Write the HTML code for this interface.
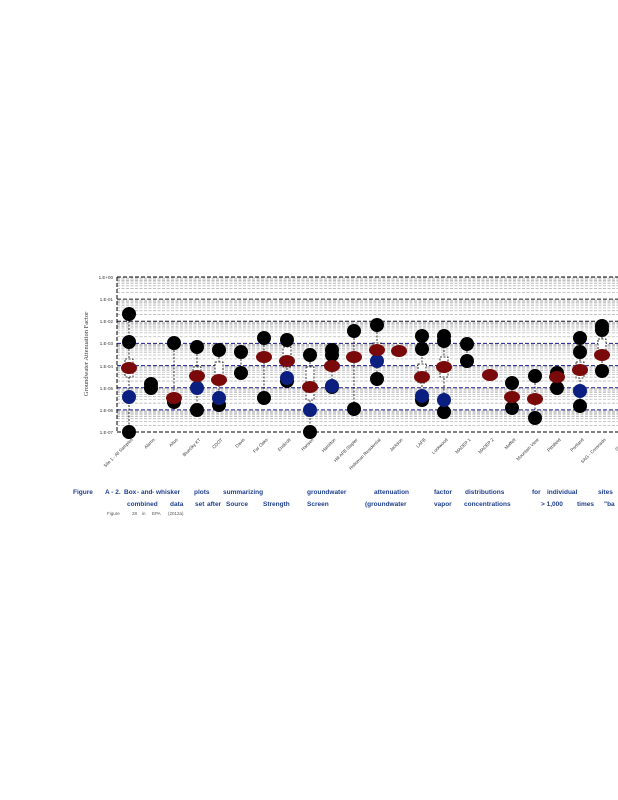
<!DOCTYPE html>
<html><head><meta charset="utf-8"><style>
html,body{margin:0;padding:0;background:#fff;width:618px;height:800px;overflow:hidden}
svg{display:block}
</style></head><body>
<svg width="618" height="800" viewBox="0 0 618 800" xmlns="http://www.w3.org/2000/svg" font-family="Liberation Sans, sans-serif">
<defs>
<g id="minor" stroke="#b8b8b8" stroke-width="0.8" stroke-dasharray="3,1.5">
<line x1="117" x2="618" y1="1.02" y2="1.02"/><line x1="117" x2="618" y1="2.14" y2="2.14"/>
<line x1="117" x2="618" y1="3.43" y2="3.43"/><line x1="117" x2="618" y1="4.91" y2="4.91"/>
<line x1="117" x2="618" y1="6.66" y2="6.66"/><line x1="117" x2="618" y1="8.81" y2="8.81"/>
<line x1="117" x2="618" y1="11.58" y2="11.58"/><line x1="117" x2="618" y1="15.47" y2="15.47"/>
</g>
</defs>
<use href="#minor" y="277"/><use href="#minor" y="299.1"/><use href="#minor" y="321.3"/>
<use href="#minor" y="343.4"/><use href="#minor" y="365.6"/><use href="#minor" y="387.7"/><use href="#minor" y="409.9"/>
<g stroke-width="1" stroke-dasharray="4,2">
<line x1="117" x2="618" y1="299.1" y2="299.1" stroke="#222"/>
<line x1="117" x2="618" y1="321.3" y2="321.3" stroke="#112"/>
<line x1="117" x2="618" y1="343.4" y2="343.4" stroke="#1a1a8a"/>
<line x1="117" x2="618" y1="365.6" y2="365.6" stroke="#1a1a8a"/>
<line x1="117" x2="618" y1="387.7" y2="387.7" stroke="#1a1a8a"/>
<line x1="117" x2="618" y1="409.9" y2="409.9" stroke="#1a1a8a"/>
</g>
<g stroke="#000" stroke-width="1" stroke-dasharray="4,2" fill="none">
<line x1="117" x2="618" y1="277" y2="277"/>
<line x1="117" x2="618" y1="432" y2="432"/>
<line x1="117" x2="117" y1="277" y2="432"/>
</g>
<g font-size="4.5" fill="#333" text-anchor="end">
<text x="113" y="279">1.E+00</text><text x="113" y="301">1.E-01</text><text x="113" y="323">1.E-02</text>
<text x="113" y="345">1.E-03</text><text x="113" y="368">1.E-04</text><text x="113" y="390">1.E-05</text>
<text x="113" y="412">1.E-06</text><text x="113" y="434">1.E-07</text>
</g>
<text transform="translate(88,354) rotate(-90)" font-size="6.5" fill="#333" text-anchor="middle" font-family="Liberation Serif, serif">Groundwater  Attenuation  Factor</text>

<g stroke="#000" stroke-width="0.8" stroke-dasharray="2,1.5" fill="none">
<line x1="129" x2="129" y1="314" y2="432"/><line x1="174" x2="174" y1="343" y2="402"/>
<line x1="197" x2="197" y1="347" y2="410"/><line x1="219" x2="219" y1="350" y2="405"/>
<line x1="241" x2="241" y1="352" y2="373"/><line x1="264" x2="264" y1="338" y2="398"/>
<line x1="287" x2="287" y1="340" y2="381"/><line x1="310" x2="310" y1="355" y2="432"/>
<line x1="332" x2="332" y1="350" y2="387"/><line x1="354" x2="354" y1="331" y2="409"/>
<line x1="377" x2="377" y1="325" y2="379"/><line x1="422" x2="422" y1="336" y2="400"/>
<line x1="444" x2="444" y1="336" y2="412"/><line x1="467" x2="467" y1="344" y2="361"/>
<line x1="512" x2="512" y1="383" y2="408"/><line x1="535" x2="535" y1="376" y2="418"/>
<line x1="557" x2="557" y1="373" y2="388"/><line x1="580" x2="580" y1="338" y2="406"/>
<line x1="602" x2="602" y1="326" y2="371"/>
<rect x="125" y="359" width="8" height="18" fill="#fff"/>
<rect x="193" y="367" width="8" height="15" fill="#fff"/>
<rect x="215" y="362" width="8" height="22" fill="#fff"/>
<rect x="283" y="347" width="8" height="20" fill="#fff"/>
<rect x="306" y="367" width="8" height="33" fill="#fff"/>
<rect x="373" y="343" width="8" height="14" fill="#fff"/>
<rect x="418" y="364" width="8" height="19" fill="#fff"/>
<rect x="440" y="357" width="8" height="20" fill="#fff"/>
<rect x="576" y="362" width="8" height="16" fill="#fff"/>
<rect x="598" y="339" width="8" height="18" fill="#fff"/>
</g>
<g fill="#000">
<circle cx="129" cy="314" r="7"/><circle cx="129" cy="342" r="7"/><circle cx="129" cy="432" r="7"/>
<circle cx="151" cy="384" r="7"/><circle cx="151" cy="388" r="7"/>
<circle cx="174" cy="343" r="7"/><circle cx="174" cy="402" r="7"/>
<circle cx="197" cy="347" r="7"/><circle cx="197" cy="410" r="7"/>
<circle cx="219" cy="350" r="7"/><circle cx="219" cy="405" r="7"/>
<circle cx="241" cy="352" r="7"/><circle cx="241" cy="373" r="7"/>
<circle cx="264" cy="338" r="7"/><circle cx="264" cy="398" r="7"/>
<circle cx="287" cy="340" r="7"/><circle cx="287" cy="381" r="7"/>
<circle cx="310" cy="355" r="7"/><circle cx="310" cy="432" r="7"/>
<circle cx="332" cy="350" r="7"/><circle cx="332" cy="355" r="7"/><circle cx="332" cy="387" r="7"/>
<circle cx="354" cy="331" r="7"/><circle cx="354" cy="409" r="7"/>
<circle cx="377" cy="325" r="7"/><circle cx="377" cy="379" r="7"/>
<circle cx="422" cy="336" r="7"/><circle cx="422" cy="349" r="7"/><circle cx="422" cy="400" r="7"/>
<circle cx="444" cy="336" r="7"/><circle cx="444" cy="341" r="7"/><circle cx="444" cy="412" r="7"/>
<circle cx="467" cy="344" r="7"/><circle cx="467" cy="361" r="7"/>
<circle cx="512" cy="383" r="7"/><circle cx="512" cy="408" r="7"/>
<circle cx="535" cy="376" r="7"/><circle cx="535" cy="418" r="7"/>
<circle cx="557" cy="373" r="7"/><circle cx="557" cy="388" r="7"/>
<circle cx="580" cy="338" r="7"/><circle cx="580" cy="352" r="7"/><circle cx="580" cy="406" r="7"/>
<circle cx="602" cy="326" r="7"/><circle cx="602" cy="330" r="7"/><circle cx="602" cy="371" r="7"/>
</g>
<g fill="#0b1f80">
<circle cx="129" cy="397" r="7"/><circle cx="197" cy="388" r="7"/><circle cx="219" cy="398" r="7"/>
<circle cx="287" cy="378" r="7"/><circle cx="310" cy="410" r="7"/><circle cx="332" cy="386" r="7"/>
<circle cx="377" cy="361" r="7"/><circle cx="422" cy="396" r="7"/><circle cx="444" cy="400" r="7"/>
<circle cx="580" cy="391" r="7"/>
</g>
<g fill="#7a0a0a">
<ellipse cx="129" cy="368" rx="8" ry="6"/><ellipse cx="174" cy="398" rx="8" ry="6"/>
<ellipse cx="197" cy="376" rx="8" ry="6"/><ellipse cx="219" cy="380" rx="8" ry="6"/>
<ellipse cx="264" cy="357" rx="8" ry="6"/><ellipse cx="287" cy="361" rx="8" ry="6"/>
<ellipse cx="310" cy="387" rx="8" ry="6"/><ellipse cx="332" cy="366" rx="8" ry="6"/>
<ellipse cx="354" cy="357" rx="8" ry="6"/><ellipse cx="377" cy="350" rx="8" ry="6"/>
<ellipse cx="399" cy="351" rx="8" ry="6"/><ellipse cx="422" cy="377" rx="8" ry="6"/>
<ellipse cx="444" cy="367" rx="8" ry="6"/><ellipse cx="490" cy="375" rx="8" ry="6"/>
<ellipse cx="512" cy="397" rx="8" ry="6"/><ellipse cx="535" cy="399" rx="8" ry="6"/>
<ellipse cx="557" cy="377" rx="8" ry="6"/><ellipse cx="580" cy="370" rx="8" ry="6"/>
<ellipse cx="602" cy="355" rx="8" ry="6"/>
</g>
<g font-size="4.5" fill="#333" text-anchor="end">
<text transform="translate(133,440) rotate(-45)">Site 1 - All Samples</text>
<text transform="translate(155,440) rotate(-45)">Alamo</text>
<text transform="translate(178,440) rotate(-45)">Altus</text>
<text transform="translate(201,440) rotate(-45)">BlueSky KT</text>
<text transform="translate(223,440) rotate(-45)">CDOT</text>
<text transform="translate(245,440) rotate(-45)">Davis</text>
<text transform="translate(268,440) rotate(-45)">Far Oaks</text>
<text transform="translate(291,440) rotate(-45)">Endicott</text>
<text transform="translate(314,440) rotate(-45)">Hansen</text>
<text transform="translate(336,440) rotate(-45)">Hamilton</text>
<text transform="translate(358,440) rotate(-45)">Hill AFB Stapler</text>
<text transform="translate(381,440) rotate(-45)">Holloman Residential</text>
<text transform="translate(403,440) rotate(-45)">Jackson</text>
<text transform="translate(426,440) rotate(-45)">LAFB</text>
<text transform="translate(448,440) rotate(-45)">Lockwood</text>
<text transform="translate(471,440) rotate(-45)">MADEP 1</text>
<text transform="translate(494,440) rotate(-45)">MADEP 2</text>
<text transform="translate(516,440) rotate(-45)">Moffett</text>
<text transform="translate(539,440) rotate(-45)">Mountain View</text>
<text transform="translate(561,440) rotate(-45)">Pittsfield</text>
<text transform="translate(584,440) rotate(-45)">Portland</text>
<text transform="translate(606,440) rotate(-45)">SAG - Coronado</text>
<text transform="translate(628,440) rotate(-45)">Stauffer</text>
</g>
<g font-size="6.5" fill="#1f3f8f" font-weight="bold">
<text x="73" y="494">Figure</text>
<text x="105" y="494">A - 2.</text>
<text x="124" y="494">Box</text>
<text x="137" y="494">- and</text>
<text x="152" y="494">- whisker</text>
<text x="194" y="494">plots</text>
<text x="223" y="494">summarizing</text>
<text x="307" y="494">groundwater</text>
<text x="374" y="494">attenuation</text>
<text x="434" y="494">factor</text>
<text x="465" y="494">distributions</text>
<text x="532" y="494">for</text>
<text x="547" y="494">individual</text>
<text x="598" y="494">sites</text>
<text x="127" y="506">combined</text>
<text x="170" y="506">data</text>
<text x="195" y="506">set</text>
<text x="207" y="506">after</text>
<text x="226" y="506">Source</text>
<text x="263" y="506">Strength</text>
<text x="307" y="506">Screen</text>
<text x="365" y="506">(groundwater</text>
<text x="434" y="506">vapor</text>
<text x="464" y="506">concentrations</text>
<text x="541" y="506">&gt; 1,000</text>
<text x="577" y="506">times</text>
<text x="604" y="506">"ba</text>
</g>
<g font-size="4.5" fill="#555">
<text x="107" y="515">Figure</text><text x="132" y="515">28</text><text x="142" y="515">in</text>
<text x="152" y="515">EPA</text><text x="168" y="515">(2012a)</text>
</g>
</svg>
</body></html>
